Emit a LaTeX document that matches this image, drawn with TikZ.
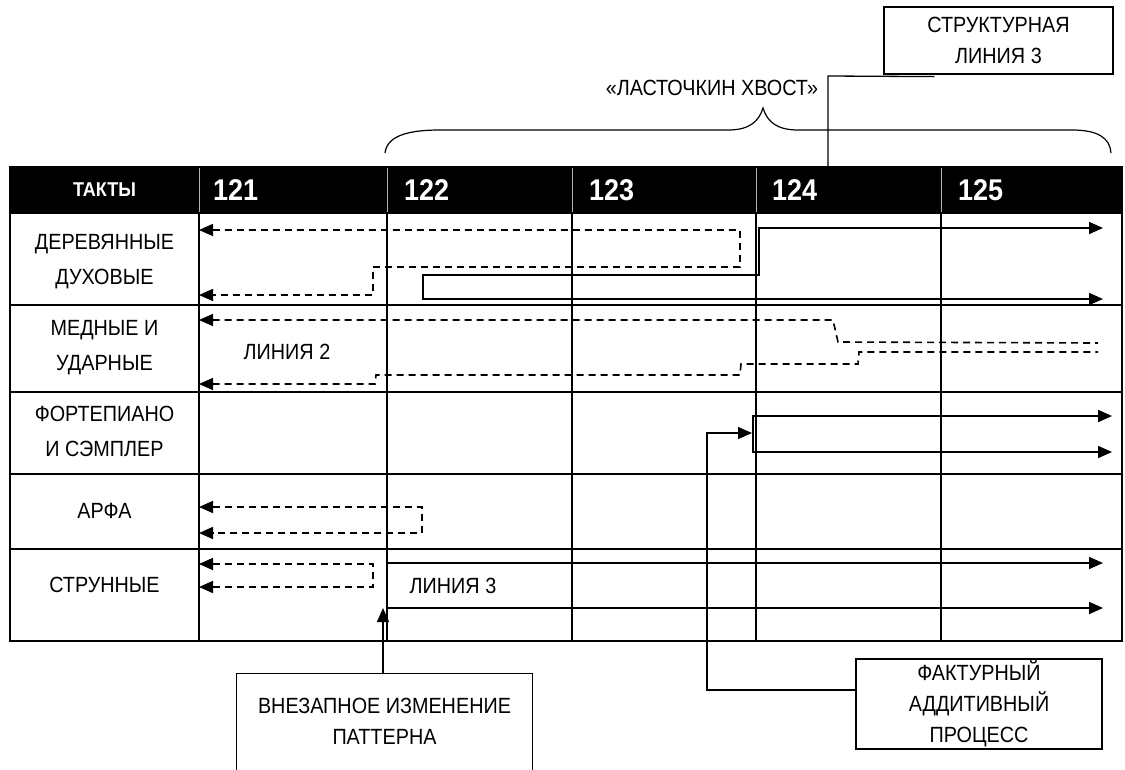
\documentclass[tikz,border=0pt]{standalone}
\usepackage{fontspec}
\setmainfont{Liberation Sans}[FakeStretch=0.9]
\usetikzlibrary{arrows.meta}
\begin{document}
\begin{tikzpicture}[x=1pt,y=-1pt,
  >={Triangle[length=14pt,width=12pt]},
  grid/.style={line width=1.3pt},
  lbl/.style={font=\fontsize{22}{35}\selectfont, align=center, inner sep=0pt},
  boxlbl/.style={font=\fontsize{22}{31}\selectfont, align=center, inner sep=0pt},
  frame/.style={draw, line width=1.2pt},
  hdr/.style={font=\fontsize{20}{22}\selectfont\bfseries, text=white, inner sep=0pt},
  num/.style={font=\fontsize{30}{32}\selectfont\bfseries, text=white, anchor=west, inner sep=0pt},
  sol/.style={line width=1.8pt},
  dsh/.style={line width=1.6pt, dash pattern=on 7pt off 5pt},
  conn/.style={line width=1.3pt}]
\clip (0,0) rectangle (1125,769);
\fill[white] (0,0) rectangle (1125,769);

% table
\fill (10,167) rectangle (1122,213);
\draw[grid] (10,167) rectangle (1122,641);
\foreach \y in {213,305,392,474,549} \draw[grid] (10,\y) -- (1122,\y);
\foreach \x in {199,387,572,756,941} {
  \draw[grid] (\x,213) -- (\x,641);
  \draw[gray!60, line width=1pt] (\x,168) -- (\x,212);
}

% header
\node[hdr] (takty) at (104.5,190) {ТАКТЫ};
\node[num] (m121) at (213,190) {121};
\node[num] (m122) at (404,190) {122};
\node[num] (m123) at (589,190) {123};
\node[num] (m124) at (772,190) {124};
\node[num] (m125) at (958,190) {125};

% row labels
\node[lbl] (wood) at (104.5,262) {ДЕРЕВЯННЫЕ\\ДУХОВЫЕ};
\node[lbl] (brass) at (104.5,348) {МЕДНЫЕ И\\УДАРНЫЕ};
\node[lbl] (piano) at (104.5,431) {ФОРТЕПИАНО\\И СЭМПЛЕР};
\node[lbl] (harp) at (104.5,511) {АРФА};
\node[lbl] (strings) at (104.5,585) {СТРУННЫЕ};
\node[lbl] (line2) at (287,352) {ЛИНИЯ 2};
\node[lbl] (line3) at (453,586) {ЛИНИЯ 3};

% brace and its label
\draw[line width=1.2pt] (385,153) .. controls (387,137) and (405,130) .. (440,130)
  -- (728,130) .. controls (750,130) and (759,121) .. (763,108)
  .. controls (767,121) and (776,130) .. (798,130)
  -- (1072,130) .. controls (1098,130) and (1110,138) .. (1111,153);
\node[lbl] (swallow) at (712,88) {«ЛАСТОЧКИН ХВОСТ»};

% structural line 3 box
\node[boxlbl, frame, minimum width=229pt, minimum height=67pt] (sbox) at (998.5,40.5) {СТРУКТУРНАЯ\\ЛИНИЯ 3};
\coordinate (s1) at (828,76);
\coordinate (s2) at (828,167);
\draw[conn] ([xshift=51pt,yshift=-2pt]sbox.south west) -- (s1) -- (s2);

% woodwinds
\draw[dsh,<->] (199,230) -- (740,230) -- (740,267) -- (373,267) -- (373,295) -- (199,295);
\draw[sol,<->] (1103,228) -- (759,228) -- (759,275) -- (423,275) -- (423,299) -- (1103,299);

% brass
\draw[dsh,<-] (199,320) -- (833,320) -- (838,342) -- (1098,343);
\draw[dsh,<-] (199,384) -- (375,384) -- (376,375) -- (740,375) -- (741,364) -- (858,364) -- (859,352) -- (1098,352);

% piano
\coordinate (pj) at (752,433);
\draw[sol,<->] (1112,416) -- (753,416) -- (753,452) -- (1112,452);

% harp
\draw[dsh,<->] (199,507) -- (422,507) -- (422,533) -- (199,533);

% strings
\draw[dsh,<->] (199,564) -- (373,564) -- (373,587) -- (199,587);
\draw[sol,<->] (1103,563) -- (387,563) -- (387,608) -- (1103,608);
\coordinate (l3b) at (383,608);

% sudden change box (open at the bottom)
\node[boxlbl, minimum width=295pt, minimum height=94pt] (vbox) at (384.5,721) {ВНЕЗАПНОЕ ИЗМЕНЕНИЕ\\ПАТТЕРНА};
\draw[conn] ([yshift=-12pt]vbox.south west) -- (vbox.north west) -- (vbox.north east) -- ([yshift=-12pt]vbox.south east);
\coordinate (vtop) at (383,674);
\draw[conn,->] (vtop) -- (l3b);

% texture additive process box
\node[boxlbl, frame, minimum width=246pt, minimum height=90pt] (fbox) at (979,704) {ФАКТУРНЫЙ\\АДДИТИВНЫЙ\\ПРОЦЕСС};
\coordinate (f1) at (707,690);
\draw[conn,->] ([yshift=14pt]fbox.west) -- (f1) -- (f1 |- pj) -- (pj);
\end{tikzpicture}
\end{document}
